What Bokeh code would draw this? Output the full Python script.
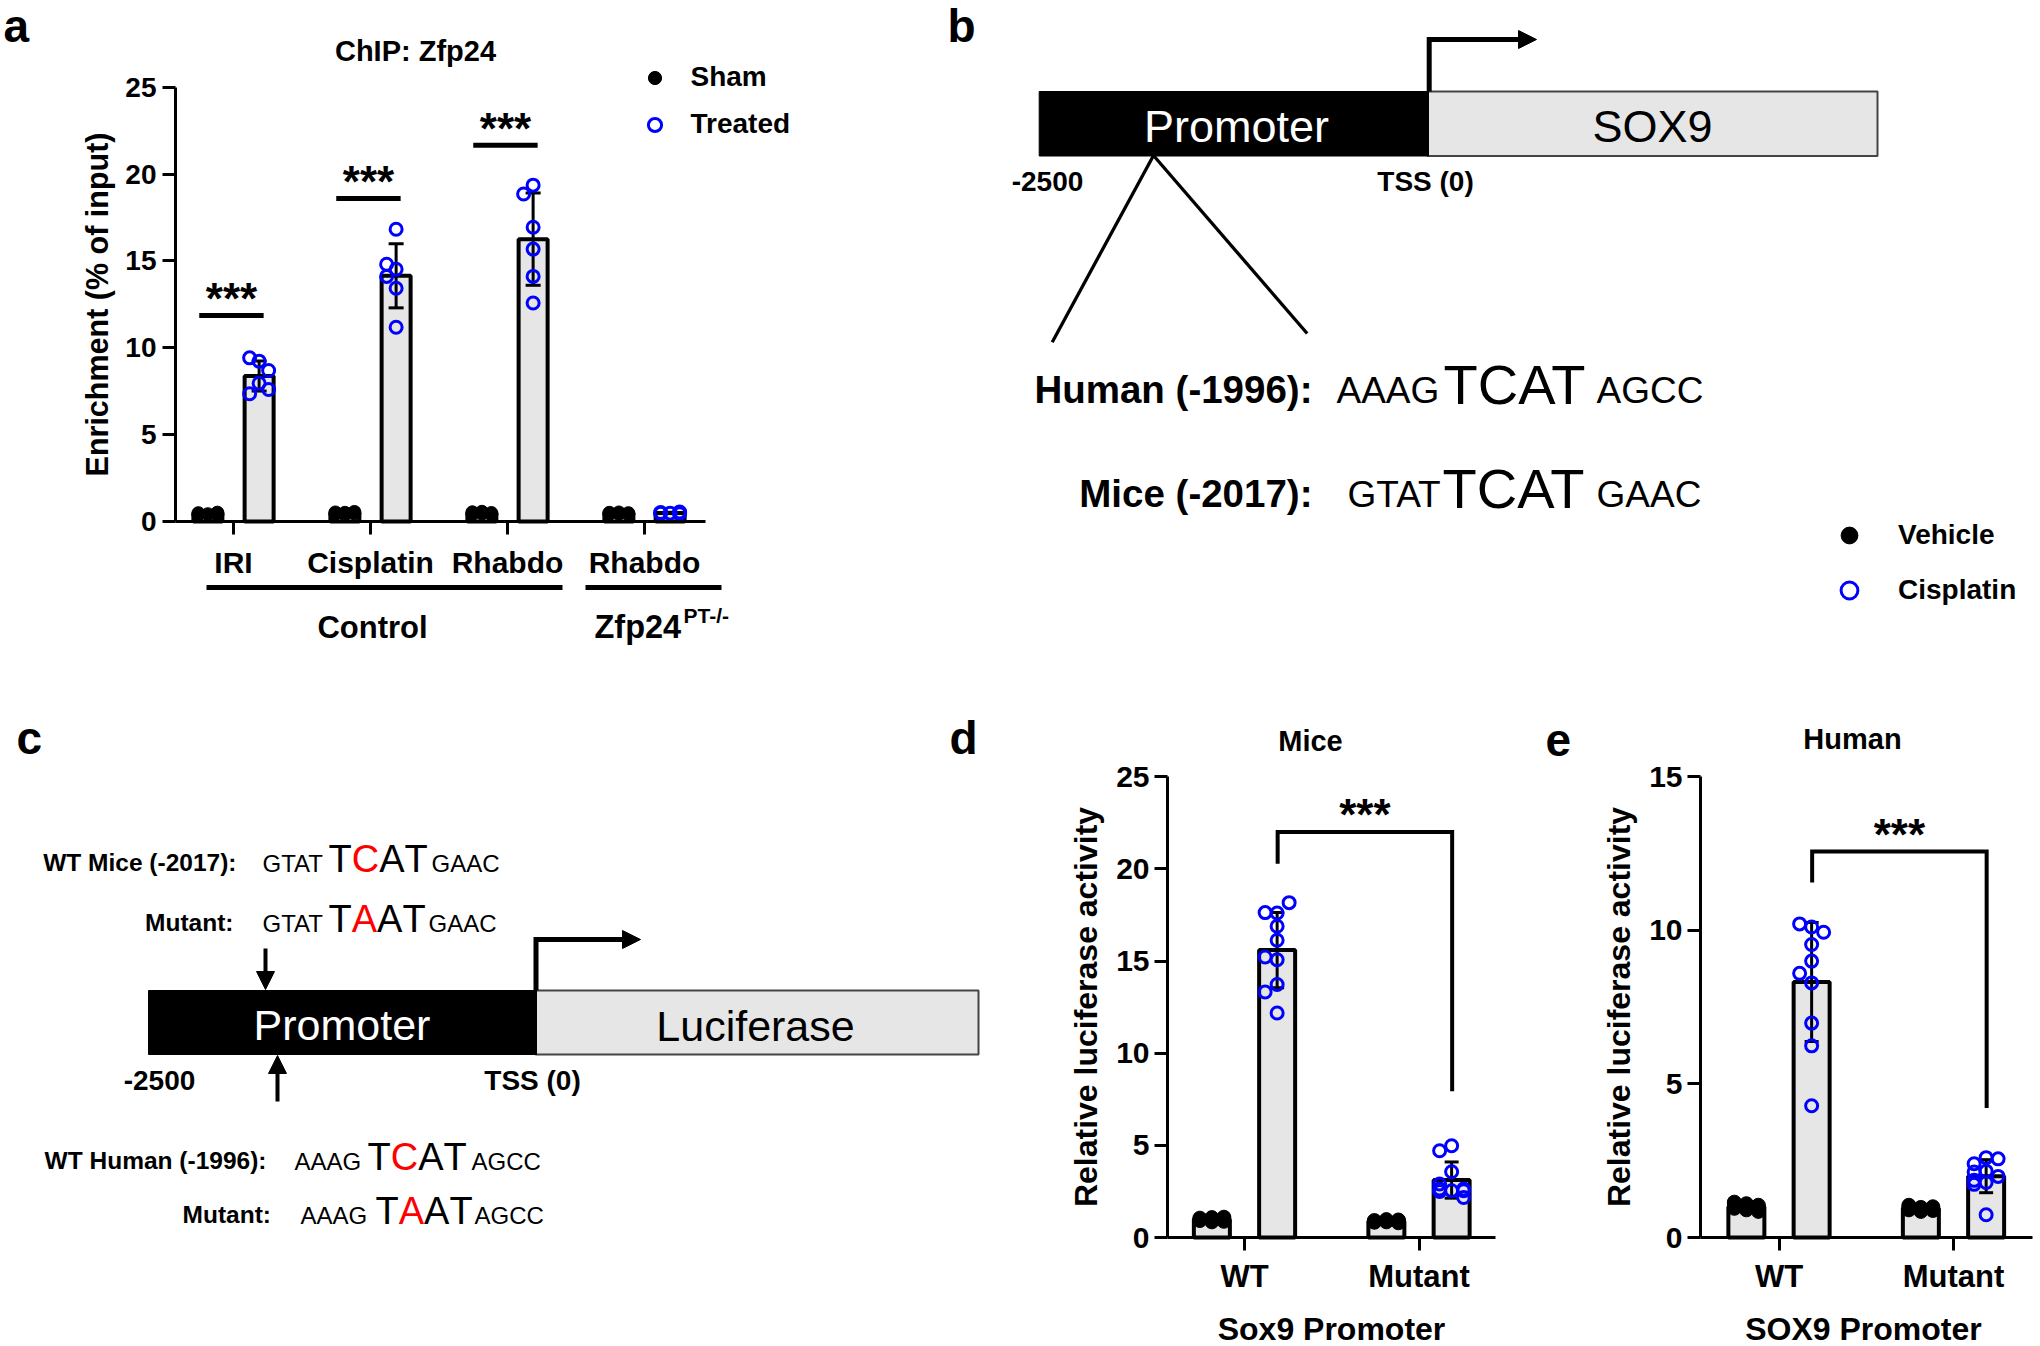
import numpy as np
from bokeh.plotting import figure
from bokeh.models import (Range1d, FixedTicker, LinearAxis, Arrow, NormalHead, Legend, LegendItem)
from bokeh.embed import file_html
from bokeh.resources import INLINE
from bokeh.core.properties import value

# ---------------- data ----------------
a_categories = ["IRI", "Cisplatin", "Rhabdo", "Rhabdo"]
a_sham = [
    [0.42, 0.48, 0.38, 0.51, 0.45, 0.40],
    [0.50, 0.44, 0.55, 0.47, 0.40, 0.52],
    [0.46, 0.53, 0.41, 0.49, 0.56, 0.43],
    [0.45, 0.50, 0.42, 0.48, 0.52, 0.44],
]
a_treated = [
    [9.23, 9.42, 8.69, 7.96, 7.35, 7.60],
    [16.82, 14.52, 14.81, 14.11, 13.43, 11.18],
    [19.36, 18.85, 16.94, 15.68, 14.11, 12.58],
    [0.48, 0.52, 0.45, 0.55, 0.50, 0.47],
]
a_sig_heights = [11.86, 18.6, 21.66]
a_yticks = [0, 5, 10, 15, 20, 25]

d_categories = ["WT", "Mutant"]
d_vehicle = [
    [0.95, 1.05, 0.88, 1.10, 0.92, 1.00, 0.85, 1.08, 0.97, 0.90],
    [0.85, 0.92, 0.80, 0.95, 0.88, 0.90, 0.83, 0.97, 0.86, 0.91],
]
d_cisplatin = [
    [17.61, 17.63, 18.17, 16.89, 16.13, 15.07, 15.22, 13.73, 13.32, 12.18],
    [4.98, 4.71, 3.57, 2.90, 2.54, 2.63, 2.63, 2.50, 2.17, 2.54],
]
d_bracket = [20.28, 22.0, 7.93]
d_yticks = [0, 5, 10, 15, 20, 25]

e_categories = ["WT", "Mutant"]
e_vehicle = [
    [1.10, 0.95, 1.05, 0.90, 1.15, 0.85, 1.00, 0.98, 0.92, 1.08],
    [0.95, 0.90, 1.00, 0.88, 1.05, 0.92, 0.97, 0.85, 0.93, 0.98],
]
e_cisplatin = [
    [10.11, 10.21, 9.94, 9.54, 9.00, 8.60, 8.29, 6.98, 6.24, 4.29],
    [2.16, 2.40, 2.56, 2.60, 1.99, 2.13, 1.79, 1.73, 1.86, 0.74],
]
e_bracket = [11.56, 12.57, 4.22]
e_yticks = [0, 5, 10, 15]

# ---------------- styling / layout constants ----------------
FONT = "Liberation Sans"
BLUE = "#0000ff"
GRAY = "#e6e6e6"
RED = "#ff0000"
REF_W, REF_H = 2040, 1346
PX_W, PX_H = 2040, 1346
SX = PX_W / REF_W
SY = PX_H / REF_H
FK = 1.0
BASE_K = 0.31  # baseline correction for text glyphs (em)
CW = {"A": 0.667, "C": 0.722, "G": 0.778, "T": 0.611}


def fs(px):
    return f"{px * FK:.1f}px"


p = figure(width=PX_W, height=PX_H, x_range=Range1d(0, REF_W), y_range=Range1d(REF_H, 0),
           output_backend="svg", toolbar_location=None, title=None,
           x_axis_location=None, y_axis_location=None, min_border=0)
p.outline_line_color = None
p.background_fill_color = "white"
p.border_fill_color = "white"
p.grid.visible = False
p.extra_x_ranges = {}
p.extra_y_ranges = {}


def text(x, y, s, size, bold=False, color="black", align="left"):
    p.text(x=[x], y=[y - BASE_K * size], text=[s], text_font=value(FONT), text_font_size=value(fs(size)),
           text_font_style="bold" if bold else "normal", text_color=color,
           text_align=align, text_baseline="alphabetic")


def seq(y, parts):
    for x, s, size, red in parts:
        if red is None:
            text(x, y, s, size)
        else:
            cx = x
            for k, ch in enumerate(s):
                text(cx, y, ch, size, color=RED if k == red else "black")
                cx += CW[ch] * size


def tss(x, y_box, y_top, x_tip):
    p.line(x=[x, x, x_tip - 12], y=[y_box, y_top, y_top], line_width=5, line_color="black",
           line_join="miter")
    p.add_layout(Arrow(x_start=x_tip - 20, y_start=y_top, x_end=x_tip, y_end=y_top, line_width=5,
                       line_color="black",
                       end=NormalHead(size=18, fill_color="black", line_color="black", line_width=1)))


def varrow(x, y0, y1):
    p.add_layout(Arrow(x_start=x, y_start=y0, x_end=x, y_end=y1, line_width=4, line_color="black",
                       end=NormalHead(size=18, fill_color="black", line_color="black", line_width=1)))


def swarm(vals, ppy, step, diam):
    cands = [0.0, -step, step]
    placed, out = [], []
    for v in vals:
        yv = v * ppy
        best, bestd = cands[0], -1.0
        for c in cands:
            d = min((np.hypot(c - a, yv - b) for a, b in placed), default=1e9)
            if d >= diam:
                best = c
                break
            if d > bestd:
                best, bestd = c, d
        placed.append((best, yv))
        out.append(best)
    return out


class Chart:
    """A bar/dot chart drawn on its own pair of ranges inside the page figure."""

    def __init__(self, name, tick1_ref, step_ref, y0_ref, ytop_ref, ymax):
        self.xn, self.yn = name + "x", name + "y"
        self.tick1, self.step = tick1_ref, step_ref
        self.y0 = y0_ref
        self.ppu = (y0_ref - ytop_ref) / ymax
        p.extra_x_ranges[self.xn] = Range1d(1 - tick1_ref / step_ref, 1 + (REF_W - tick1_ref) / step_ref)
        p.extra_y_ranges[self.yn] = Range1d((y0_ref - REF_H) / self.ppu, y0_ref / self.ppu)
        self.ppx = step_ref * SX
        self.ppy = self.ppu * SY
        self.kw = dict(x_range_name=self.xn, y_range_name=self.yn)

    def xd(self, rx):
        return 1 + (rx - self.tick1) / self.step

    def rx(self, x):
        return self.tick1 + (x - 1) * self.step

    def ry(self, v):
        return self.y0 - v * self.ppu

    def axes(self, left_ref, right_ref, yticks, ymax, cats, ytick_fs, xtick_fs, ylabel, ylabel_fs,
             ylab_standoff, ytick_standoff, xtick_standoff):
        ya = LinearAxis(fixed_location=self.xd(left_ref), bounds=(0, ymax),
                        ticker=FixedTicker(ticks=yticks), axis_label=ylabel, **self.kw)
        xa = LinearAxis(fixed_location=0, bounds=(self.xd(left_ref), self.xd(right_ref)),
                        ticker=FixedTicker(ticks=list(range(1, len(cats) + 1))), **self.kw)
        xa.major_label_overrides = {i + 1: c for i, c in enumerate(cats)}
        for ax in (ya, xa):
            ax.axis_line_width = 3
            ax.axis_line_color = "black"
            ax.major_tick_line_width = 3
            ax.major_tick_line_color = "black"
            ax.major_tick_out = 13
            ax.major_tick_in = 0
            ax.minor_tick_line_color = None
            ax.major_label_text_font = FONT
            ax.major_label_text_font_style = "bold"
            ax.major_label_text_color = "black"
            ax.axis_label_text_font = FONT
            ax.axis_label_text_font_style = "bold"
            ax.axis_label_text_color = "black"
        ya.major_label_text_font_size = fs(ytick_fs)
        ya.major_label_standoff = ytick_standoff
        ya.axis_label_text_font_size = fs(ylabel_fs)
        ya.axis_label_standoff = ylab_standoff
        xa.major_label_text_font_size = fs(xtick_fs)
        xa.major_label_standoff = xtick_standoff
        p.add_layout(ya, "left")
        p.add_layout(xa, "below")

    def bars(self, ctrl, trt, off, bw_px, ctrl_kw, trt_kw, step_px, diam, cap_px):
        xs, tops, lo, hi = [], [], [], []
        pc_x, pc_y, pt_x, pt_y = [], [], [], []
        for i, (vc, vt) in enumerate(zip(ctrl, trt)):
            c = i + 1
            for side, vals, sx_, sy_ in ((-off, vc, pc_x, pc_y), (off, vt, pt_x, pt_y)):
                v = np.asarray(vals, float)
                m, s = v.mean(), v.std(ddof=1)
                x = c + side
                xs.append(x); tops.append(m); lo.append(m - s); hi.append(m + s)
                offs = swarm(v, self.ppy, step_px, diam)
                sx_.extend(x + o / self.ppx for o in offs)
                sy_.extend(v.tolist())
        p.vbar(x=xs, top=tops, bottom=0, width=bw_px / self.ppx, fill_color=GRAY, line_color="black",
               line_width=4, **self.kw)
        cap = cap_px / 2 / self.ppx
        p.segment(x0=xs, y0=lo, x1=xs, y1=hi, line_color="black", line_width=3, **self.kw)
        p.segment(x0=[x - cap for x in xs] * 2, y0=hi + lo, x1=[x + cap for x in xs] * 2, y1=hi + lo,
                  line_color="black", line_width=3, **self.kw)
        rc = p.scatter(pc_x, pc_y, marker="circle", **ctrl_kw, **self.kw)
        rt = p.scatter(pt_x, pt_y, marker="circle", **trt_kw, **self.kw)
        return rc, rt

    def stars(self, x, h, size=44):
        text(self.rx(x), self.ry(h) - 3.5, "***", size, bold=True, align="center")


def legend(items, cx_ref, cy_ref, text_x_ref, g, row_ref):
    left = cx_ref * SX - g / 2
    top = cy_ref * SY - g / 2
    sp = round(row_ref * SY - g)
    height = len(items) * g + (len(items) - 1) * sp
    lg = Legend(items=[LegendItem(label=l, renderers=[r]) for l, r in items],
                location=(left, PX_H - (top + height)), orientation="vertical",
                glyph_width=g, glyph_height=g, label_height=g, spacing=sp, padding=0, margin=0,
                border_line_color=None, background_fill_alpha=0,
                label_standoff=round(text_x_ref * SX - (left + g)),
                label_text_font=FONT, label_text_font_style="bold", label_text_font_size=fs(28),
                label_text_color="black")
    p.add_layout(lg)


# ================= panel a =================
A = Chart("a", 233, 137, 521, 86.7, 25)
A.axes(175, 705, a_yticks, 25, a_categories, 28, 30, "Enrichment (% of input)", 30.5, 8, 6, 11)
r_sham, r_treat = A.bars(a_sham, a_treated, 0.187, 29,
                         dict(size=13, fill_color="black", line_color="black", line_width=1),
                         dict(size=12, fill_color=None, line_color=BLUE, line_width=3),
                         9.5, 14, 15)
for i, h in enumerate(a_sig_heights):
    c = i + 1
    p.segment(x0=[c - 0.25], y0=[h], x1=[c + 0.22], y1=[h], line_color="black", line_width=5, **A.kw)
    A.stars(c - 0.015, h)

text(3, 40, "a", 46, bold=True)
text(415, 59, "ChIP: Zfp24", 29, bold=True, align="center")
p.segment(x0=[206, 585], y0=[587, 587], x1=[562, 721], y1=[587, 587], line_color="black", line_width=5)
text(372, 636.6, "Control", 31, bold=True, align="center")
text(594, 636.6, "Zfp24", 32.5, bold=True)
text(683, 622, "PT-/-", 21, bold=True)
legend([("Sham", r_sham), ("Treated", r_treat)], 654, 77, 690, 33, 47)

# ================= panel b =================
text(947, 40, "b", 46, bold=True)
p.quad(left=[1427], right=[1877], top=[91], bottom=[155.5], fill_color=GRAY, line_color="#444444",
       line_width=2)
p.quad(left=[1038.7], right=[1428], top=[91], bottom=[155.5], fill_color="black", line_color="black",
       line_width=1)
tss(1428.7, 91, 39, 1536)
p.segment(x0=[1153, 1153], y0=[155, 155], x1=[1051.7, 1306.7], y1=[341.7, 333], line_color="black",
          line_width=3.3)
text(1236, 140, "Promoter", 45, color="white", align="center")
text(1652, 140, "SOX9", 45, align="center")
text(1047, 190, "-2500", 28, bold=True, align="center")
text(1425, 190, "TSS (0)", 28, bold=True, align="center")
text(1312, 401, "Human (-1996):", 38.5, bold=True, align="right")
seq(401, [(1336, "AAAG", 37, None), (1443, "TCAT", 56, None), (1596, "AGCC", 37, None)])
text(1312, 505, "Mice (-2017):", 38.5, bold=True, align="right")
seq(505, [(1347, "GTAT", 37, None), (1442, "TCAT", 56, None), (1596, "GAAC", 37, None)])

# ================= panel c =================
text(16, 752, "c", 46, bold=True)
text(236, 870, "WT Mice (-2017):", 24.5, bold=True, align="right")
seq(870, [(262, "GTAT", 24, None), (328, "TCAT", 38, 1), (431, "GAAC", 24, None)])
text(233, 930, "Mutant:", 24.5, bold=True, align="right")
seq(930, [(262, "GTAT", 24, None), (328, "TAAT", 38, 1), (428, "GAAC", 24, None)])
varrow(265, 948, 989)
p.quad(left=[535], right=[978], top=[990], bottom=[1054], fill_color=GRAY, line_color="#444444",
       line_width=2)
p.quad(left=[148], right=[536], top=[990], bottom=[1054], fill_color="black", line_color="black",
       line_width=1)
tss(535.5, 990, 939, 640)
text(341.5, 1038, "Promoter", 43, color="white", align="center")
text(755, 1039, "Luciferase", 43, align="center")
text(159, 1089, "-2500", 28, bold=True, align="center")
text(532, 1089, "TSS (0)", 28, bold=True, align="center")
varrow(277, 1101, 1055)
text(266, 1168, "WT Human (-1996):", 24.5, bold=True, align="right")
seq(1168, [(294, "AAAG", 24, None), (367, "TCAT", 38, 1), (471, "AGCC", 24, None)])
text(270.5, 1222, "Mutant:", 24.5, bold=True, align="right")
seq(1222, [(300, "AAAG", 24, None), (375, "TAAT", 38, 1), (474, "AGCC", 24, None)])


# ================= panels d and e =================
def luciferase_panel(name, left, right, tick1, ymax, yticks, cats, veh, cis, bracket):
    P = Chart(name, tick1, 174.5, 1237, 776.3, ymax)
    P.axes(left, right, yticks, ymax, cats, 30, 31, "Relative luciferase activity", 32, 9, 5, 8)
    rv, rc = P.bars(veh, cis, 0.187, 36,
                    dict(size=14, fill_color="black", line_color="black", line_width=1),
                    dict(size=12, fill_color=None, line_color=BLUE, line_width=3),
                    12, 13, 14)
    lb, top, rb = bracket
    xl, xr = 1 + 0.19, 2 + 0.19
    p.line(x=[xl, xl, xr, xr], y=[lb, top, top, rb], line_color="black", line_width=4, line_join="miter",
           **P.kw)
    P.stars((xl + xr) / 2, top)
    return rv, rc


text(949, 752, "d", 46, bold=True)
rv_d, rc_d = luciferase_panel("d", 1167, 1495, 1244, 25, d_yticks, d_categories, d_vehicle, d_cisplatin,
                              d_bracket)
text(1310, 749.5, "Mice", 29, bold=True, align="center")
text(1331, 1338, "Sox9 Promoter", 32, bold=True, align="center")

text(1545, 754, "e", 46, bold=True)
luciferase_panel("e", 1700, 2032, 1778.5, 15, e_yticks, e_categories, e_vehicle, e_cisplatin, e_bracket)
text(1852, 747.6, "Human", 29, bold=True, align="center")
text(1863, 1338, "SOX9 Promoter", 32, bold=True, align="center")

legend([("Vehicle", rv_d), ("Cisplatin", rc_d)], 1849, 535, 1898, 42, 55)

open("out.html", "w").write(file_html(p, INLINE))
